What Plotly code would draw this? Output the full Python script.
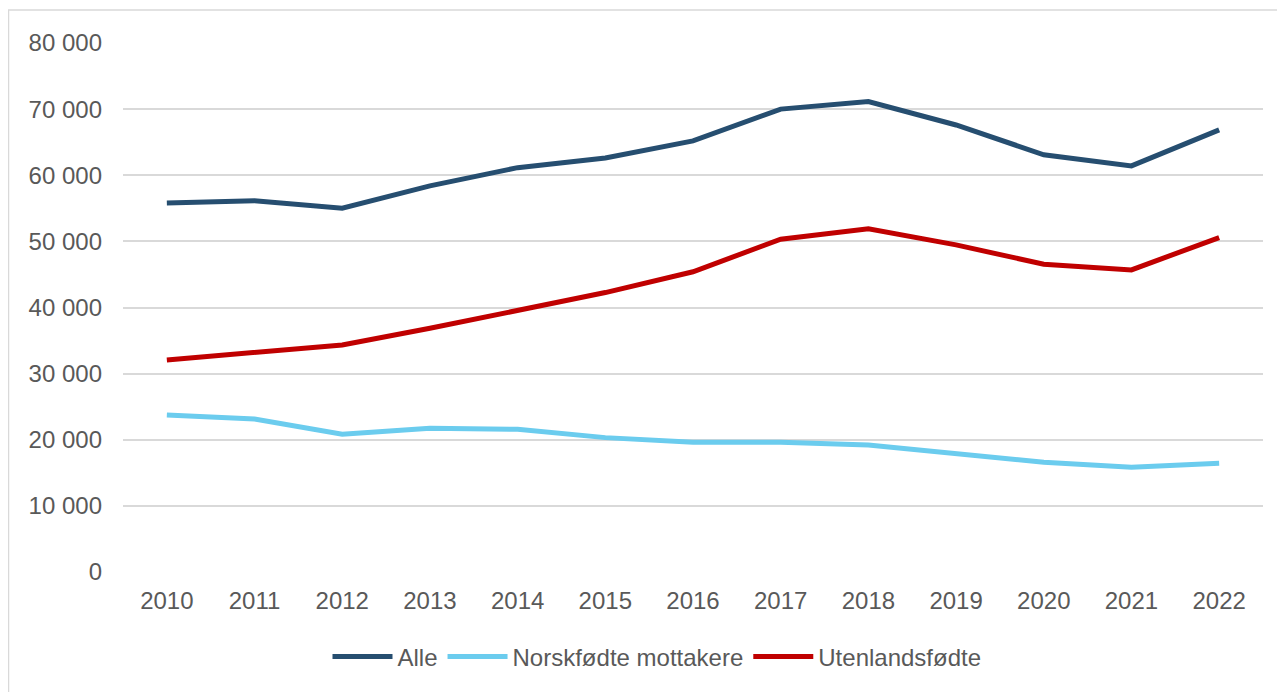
import plotly.graph_objects as go

years = ["2010", "2011", "2012", "2013", "2014", "2015", "2016",
         "2017", "2018", "2019", "2020", "2021", "2022"]
alle = [55800, 56150, 55020, 58400, 61150, 62600, 65200,
        70000, 71150, 67600, 63100, 61420, 66870]
norskfodte = [23750, 23150, 20830, 21740, 21590, 20320, 19620,
              19620, 19210, 17850, 16590, 15840, 16440]
utenlandsfodte = [32070, 33180, 34340, 36870, 39640, 42260, 45400,
                  50330, 51890, 49470, 46550, 45690, 50580]

names = ["Alle", "Norskfødte mottakere", "Utenlandsfødte"]
colors = ["#264E70", "#6BCCEE", "#C00000"]
yticks = [0, 10000, 20000, 30000, 40000, 50000, 60000, 70000, 80000]

fig = go.Figure()
for name, vals, col in zip(names, [alle, norskfodte, utenlandsfodte], colors):
    fig.add_trace(go.Scatter(x=years, y=vals, name=name, mode="lines",
                             line=dict(color=col, width=5)))

OFF = 8  # page body margin
W, H = 1285 - OFF, 692 - OFF
L, T = 123 - OFF, 43 - OFF
R = W - (1263 - OFF)
B = H - (572 - OFF)
pw, ph = W - L - R, H - T - B

def px(x):
    return (x - OFF - L) / pw

def py(y):
    return (H - B - (y - OFF)) / ph

fig.add_shape(type="rect", xref="paper", yref="paper",
              x0=px(8.5), x1=px(1310), y0=py(10), y1=py(720),
              line=dict(color="#D9D9D9", width=1.5), fillcolor="rgba(0,0,0,0)",
              layer="below")

fig.update_layout(
    width=W, height=H,
    margin=dict(l=L, r=R, t=T, b=B),
    paper_bgcolor="white", plot_bgcolor="white",
    separators=", ",
    font=dict(family="Arial, Liberation Sans, sans-serif", size=24, color="#595959"),
    showlegend=True,
    legend=dict(orientation="h", x=px(657), xanchor="center", y=py(657), yanchor="middle",
                font=dict(size=24, color="#595959"), itemwidth=60, tracegroupgap=0),
    xaxis=dict(type="category", range=[-0.5, 12.5], showgrid=False, zeroline=False,
               showline=False, ticks="", ticklabelstandoff=12),
    yaxis=dict(range=[0, 80000], tickvals=yticks, tickformat=",d",
               showgrid=True, gridcolor="#D9D9D9", gridwidth=1.5,
               zeroline=False, showline=False, ticks="", ticklabelstandoff=20),
)

fig.write_html("out.html")
